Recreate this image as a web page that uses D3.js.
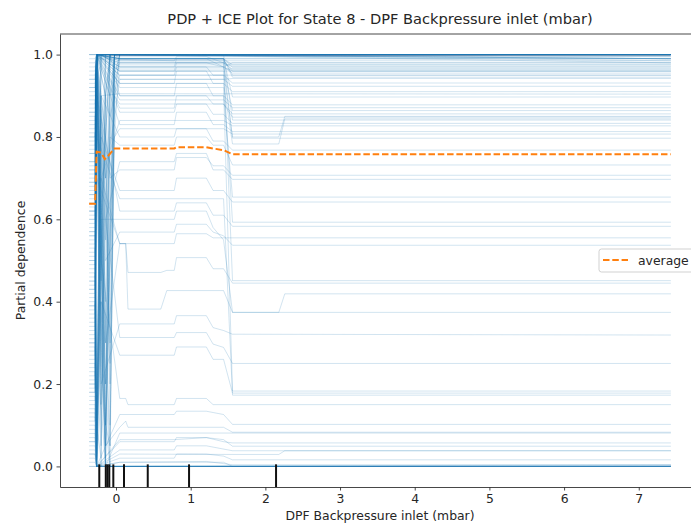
<!DOCTYPE html>
<html>
<head>
<meta charset="utf-8">
<script src="https://cdn.jsdelivr.net/npm/d3@7"></script>
<style>
  body { margin: 0; background: #fff; }
  text { font-family: "DejaVu Sans", sans-serif; fill: #262626; }
</style>
</head>
<body>
<svg id="chart" width="691" height="525"></svg>
<script>
// Feature grid (mbar) on which the individual curves are evaluated
const iceGrid = [-0.36, -0.28, -0.26, -0.20, -0.14, -0.08, -0.02, 0.05, 0.13, 0.16,
                 0.60, 0.68, 0.78, 0.81, 1.21, 1.30, 1.44, 1.56, 2.18, 2.26, 7.43];

// Individual conditional expectation curves: [grid index, predicted probability] vertices
const iceTop = [
  [[0,1],[20,1]], [[0,1],[20,1]], [[0,1],[20,1]],
  [[0,0.99],[1,0.99],[2,1],[3,0.7],[4,0.2],[5,0.9],[6,1],[20,1]],
  [[0,0.98],[1,0.98],[2,1],[20,1]],
  [[0,0.96],[1,0.96],[2,1],[4,0.1],[5,0.05],[6,0.95],[7,1],[20,1]],
  [[0,0.94],[1,0.94],[2,1],[20,1]],
  [[0,0.93],[1,0.93],[2,1],[4,0.55],[6,1],[20,1]],
  [[0,0.91],[1,0.91],[2,1],[3,0.4],[4,0.0],[5,0.5],[6,1],[20,1]],
  [[0,0.89],[1,0.89],[2,0.02],[3,0.6],[5,1],[20,1]],
  [[0,0.87],[1,0.87],[2,1],[20,1]],
  [[0,0.86],[1,0.86],[2,1],[3,0.3],[4,0.05],[6,1],[20,1]],
  [[0,0.84],[1,0.84],[2,1],[4,0.8],[5,0.1],[6,0.8],[7,1],[20,0.995]],
  [[0,0.82],[1,0.82],[2,1],[20,1]],
  [[0,0.81],[1,0.81],[2,0.1],[4,0.9],[5,1],[20,1]],
  [[0,0.79],[1,0.79],[2,1],[3,0.05],[4,0.6],[5,1],[20,1]],
  [[0,0.77],[1,0.77],[2,1],[4,0.2],[5,0.0],[6,0.95],[7,1],[20,1]],
  [[0,0.76],[1,0.76],[2,1],[20,1]],
  [[0,0.74],[1,0.74],[2,1],[3,0.9],[4,0.35],[5,0.8],[6,1],[20,0.99]],
  [[0,0.72],[1,0.72],[2,0.0],[3,0.0],[4,1],[20,1]],
  [[0,0.70],[1,0.70],[2,1],[20,1]],
  [[0,0.69],[1,0.69],[2,1],[3,0.8],[4,0.1],[5,0.7],[6,1],[20,1]],
  [[0,0.67],[1,0.67],[2,1],[4,0.9],[5,0.25],[6,1],[20,1]],
  [[0,0.65],[1,0.65],[2,1],[20,0.99]],
  [[0,0.63],[1,0.63],[2,0.05],[3,1],[20,1]],
  [[0,0.61],[1,0.61],[2,1],[3,0.15],[4,0.0],[5,0.9],[6,1],[20,1]],
  [[0,0.60],[1,0.60],[2,1],[3,0.45],[4,1],[20,1]],
  [[0,0.58],[1,0.58],[2,1],[20,1]],
  [[0,0.56],[1,0.56],[2,1],[4,0.65],[5,0.3],[6,1],[20,1]],
  [[0,0.54],[1,0.54],[2,1],[5,0.05],[6,0.9],[7,1],[20,1]],
  [[0,0.52],[1,0.52],[2,1],[20,1]],
  [[0,0.50],[1,0.50],[2,0.0],[4,0.9],[5,1],[20,1]],
  [[0,0.48],[1,0.48],[2,1],[3,0.5],[4,0.1],[6,1],[20,1]],
  [[0,0.46],[1,0.46],[2,1],[20,0.985]],
  [[0,0.44],[1,0.44],[2,1],[3,0.15],[4,0.9],[5,1],[20,0.99]],
  [[0,0.42],[1,0.42],[2,1],[20,1]],
  [[0,0.40],[1,0.40],[2,0.1],[3,0.02],[4,0.8],[5,1],[20,1]],
  [[0,0.38],[1,0.38],[2,0.95],[4,0.02],[5,0.6],[6,1],[20,1]],
  [[0,0.36],[1,0.36],[2,1],[20,1]],
  [[0,0.34],[1,0.34],[2,1],[4,0.75],[5,0.2],[6,0.9],[7,1],[20,0.98]],
  [[0,0.32],[1,0.32],[2,1],[20,1]],
  [[0,0.30],[1,0.30],[2,0.0],[3,0.7],[4,1],[20,1]],
  [[0,0.28],[1,0.28],[2,1],[3,0.6],[4,0.05],[5,1],[20,1]],
  [[0,0.26],[1,0.26],[2,1],[20,0.99]],
  [[0,0.24],[1,0.24],[2,1],[4,0.4],[5,1],[20,1]],
  [[0,0.22],[1,0.22],[2,1],[20,1]]
];

const iceBand = [
  [[0,0.97],[1,0.97],[2,1],[7,0.99],[16,0.99],[17,0.975],[20,0.975]],
  [[0,0.95],[1,0.95],[2,0.99],[12,0.985],[13,0.995],[14,0.995],[16,0.98],[17,0.97],[20,0.97]],
  [[0,0.90],[1,0.90],[2,1],[5,0.9],[7,0.98],[16,0.98],[17,0.965],[20,0.965]],
  [[0,0.88],[1,0.88],[2,1],[7,0.96],[20,0.96]],
  [[0,0.86],[1,0.86],[2,0],[3,1],[7,0.97],[12,0.97],[13,0.99],[14,0.99],[16,0.97],[17,0.955],[20,0.955]],
  [[0,0.83],[1,0.83],[2,1],[7,0.95],[20,0.95]],
  [[0,0.80],[1,0.80],[2,1],[4,0.7],[6,1],[7,0.99],[16,0.99],[17,0.945],[20,0.945]],
  [[0,0.76],[1,0.76],[2,1],[7,0.985],[20,0.985]],
  [[0,0.72],[1,0.72],[2,1],[7,0.97],[16,0.97],[17,0.98],[20,0.98]],
  [[0,0.66],[1,0.66],[2,1],[7,0.99],[20,0.99]],
  [[0,0.62],[1,0.62],[2,0.1],[3,1],[7,0.975],[20,0.975]],
  [[0,0.57],[1,0.57],[2,1],[7,0.96],[12,0.96],[13,0.98],[14,0.98],[16,0.97],[17,0.96],[20,0.96]],
  [[0,0.50],[1,0.50],[2,1],[7,0.99],[16,0.99],[17,0.95],[20,0.95]],
  [[0,0.43],[1,0.43],[2,1],[7,0.965],[20,0.965]],
  [[0,0.39],[1,0.39],[2,1],[7,0.94],[16,0.94],[17,0.942],[20,0.942]],
  [[0,0.30],[1,0.30],[2,1],[7,0.99],[16,0.99],[17,0.97],[20,0.97]],
  [[0,0.94],[1,0.94],[2,1],[7,0.98],[20,0.98]],
  [[0,0.92],[1,0.92],[2,1],[7,0.995],[20,0.995]],
  [[0,0.20],[1,0.20],[2,1],[7,0.985],[16,0.985],[17,0.96],[20,0.96]],
  [[0,0.18],[1,0.18],[2,1],[7,0.99],[20,0.99]]
];

const iceUpper = [
  [[0,0.92],[1,0.92],[2,1],[7,0.95],[12,0.95],[13,0.97],[14,0.97],[15,0.95],[16,0.95],[17,0.931],[20,0.931]],
  [[0,0.80],[1,0.80],[2,1],[4,0.7],[7,0.94],[16,0.94],[17,0.923],[20,0.923]],
  [[0,0.73],[1,0.73],[2,1],[7,0.93],[12,0.93],[13,0.96],[14,0.96],[15,0.93],[16,0.93],[17,0.91],[20,0.91]],
  [[0,0.85],[1,0.85],[2,0],[3,0.9],[7,0.905],[20,0.904]],
  [[0,0.68],[1,0.68],[2,1],[7,0.99],[16,0.99],[17,0.897],[20,0.897]],
  [[0,0.62],[1,0.62],[2,1],[3,0.6],[5,1],[7,0.9],[12,0.9],[13,0.93],[14,0.93],[15,0.9],[16,0.9],[17,0.878],[20,0.878]],
  [[0,0.78],[1,0.78],[2,1],[7,0.89],[16,0.89],[17,0.871],[20,0.871]],
  [[0,0.56],[1,0.56],[2,0.05],[3,1],[7,0.97],[16,0.97],[17,0.864],[20,0.864]],
  [[0,0.71],[1,0.71],[2,1],[7,0.87],[12,0.87],[13,0.9],[14,0.9],[15,0.88],[16,0.88],[17,0.856],[20,0.856]],
  [[0,0.64],[1,0.64],[2,1],[4,0.3],[6,0.9],[7,0.88],[16,0.88],[17,0.848],[20,0.848]],
  [[0,0.51],[1,0.51],[2,1],[7,1],[16,1],[17,0.841],[20,0.841]],
  [[0,0.74],[1,0.74],[2,1],[7,0.86],[12,0.86],[13,0.88],[14,0.88],[15,0.855],[16,0.855],[17,0.833],[20,0.833]],
  [[0,0.47],[1,0.47],[2,0],[3,0.7],[7,0.84],[16,0.84],[17,0.827],[20,0.827]],
  [[0,0.59],[1,0.59],[2,1],[7,0.93],[16,0.93],[17,0.783],[18,0.783],[19,0.844],[20,0.844]],
  [[0,0.69],[1,0.69],[2,1],[7,0.83],[12,0.83],[13,0.86],[14,0.86],[15,0.83],[16,0.83],[17,0.813],[20,0.813]],
  [[0,0.37],[1,0.37],[2,1],[4,0.2],[6,0.8],[7,0.82],[16,0.82],[17,0.807],[20,0.807]],
  [[0,0.55],[1,0.55],[2,1],[7,0.98],[16,0.98],[17,0.797],[20,0.797]],
  [[0,0.45],[1,0.45],[2,0],[3,0.9],[7,0.8],[12,0.8],[13,0.82],[14,0.82],[15,0.79],[16,0.79],[17,0.768],[20,0.768]],
  [[0,0.60],[1,0.60],[2,1],[7,0.96],[16,0.96],[17,0.8],[18,0.8],[19,0.85],[20,0.85]]
];

const iceMid = [
  [[0,0.62],[1,0.62],[2,1],[3,0.5],[5,0.8],[7,0.78],[12,0.78],[13,0.8],[14,0.8],[15,0.78],[16,0.78],[17,0.732],[20,0.732]],
  [[0,0.57],[1,0.57],[2,0],[3,0.9],[5,0.7],[7,0.72],[12,0.72],[13,0.75],[14,0.75],[15,0.73],[16,0.73],[17,0.707],[20,0.707]],
  [[0,0.66],[1,0.66],[2,1],[4,0.6],[7,0.74],[12,0.74],[13,0.76],[14,0.76],[15,0.72],[16,0.72],[17,0.697],[20,0.697]],
  [[0,0.45],[1,0.45],[2,1],[7,0.9],[16,0.9],[17,0.654],[20,0.654]],
  [[0,0.53],[1,0.53],[2,0.1],[3,0.8],[7,0.67],[12,0.67],[13,0.7],[14,0.7],[15,0.67],[16,0.67],[17,0.642],[20,0.642]],
  [[0,0.49],[1,0.49],[2,1],[5,0.85],[7,0.95],[16,0.95],[17,0.593],[20,0.593]],
  [[0,0.41],[1,0.41],[2,0.9],[7,0.62],[12,0.62],[13,0.64],[14,0.64],[15,0.61],[16,0.61],[17,0.583],[20,0.583]],
  [[0,0.39],[1,0.39],[2,0],[3,0.7],[7,0.541],[12,0.541],[13,0.565],[14,0.565],[15,0.555],[20,0.555]],
  [[0,0.35],[1,0.35],[2,1],[4,0.5],[7,0.569],[12,0.569],[13,0.588],[14,0.588],[15,0.569],[16,0.56],[17,0.537],[20,0.537]],
  [[0,0.43],[1,0.43],[2,1],[7,0.99],[16,0.99],[17,0.451],[20,0.451]],
  [[0,0.31],[1,0.31],[2,0.7],[7,0.541],[8,0.541],[9,0.471],[10,0.471],[11,0.476],[12,0.476],[13,0.507],[14,0.507],[15,0.48],[16,0.48],[17,0.445],[20,0.445]],
  [[0,0.33],[1,0.33],[2,0.9],[4,0.3],[7,0.541],[8,0.541],[9,0.382],[10,0.382],[11,0.427],[16,0.427],[17,0.374],[18,0.374],[19,0.419],[20,0.419]],
  [[0,0.29],[1,0.29],[2,0],[3,0.6],[7,0.6],[12,0.6],[13,0.62],[14,0.62],[15,0.58],[16,0.55],[17,0.374],[20,0.374]],
  [[0,0.27],[1,0.27],[2,1],[3,0.2],[7,0.346],[12,0.346],[13,0.366],[14,0.366],[15,0.337],[16,0.33],[17,0.321],[20,0.319]],
  [[0,0.25],[1,0.25],[2,0],[4,0.6],[7,0.313],[12,0.313],[13,0.325],[14,0.325],[15,0.297],[16,0.289],[17,0.25],[20,0.25]],
  [[0,0.23],[1,0.23],[2,0],[3,0.4],[7,0.27],[12,0.27],[13,0.29],[14,0.29],[15,0.26],[16,0.26],[17,0.178],[20,0.178]],
  [[0,0.21],[1,0.21],[2,1],[7,0.92],[16,0.92],[17,0.183],[20,0.183]],
  [[0,0.19],[1,0.19],[2,0.8],[7,0.65],[16,0.65],[17,0.173],[20,0.173]],
  [[0,0.17],[1,0.17],[2,0],[3,0.5],[7,0.165],[8,0.165],[9,0.15],[12,0.15],[13,0.165],[14,0.165],[15,0.15],[20,0.15]],
  [[0,0.13],[1,0.13],[2,0],[7,0.126],[12,0.126],[13,0.134],[14,0.134],[16,0.126],[17,0.102],[20,0.102]],
  [[0,0.16],[1,0.16],[2,0.9],[4,0.05],[7,0.095],[8,0.11],[9,0.095],[16,0.095],[17,0.083],[20,0.083]],
  [[0,0.11],[1,0.11],[2,0.7],[4,0],[7,0.081],[20,0.081]],
  [[0,0.09],[1,0.09],[2,0],[7,0.065],[12,0.065],[14,0.07],[16,0.06],[17,0.057],[20,0.057]],
  [[0,0.07],[1,0.07],[2,0],[7,0.06],[12,0.06],[13,0.07],[14,0.07],[16,0.065],[17,0.049],[20,0.049]],
  [[0,0.04],[1,0.04],[2,0],[7,0.04],[12,0.04],[13,0.05],[14,0.05],[17,0.038],[20,0.038]],
  [[0,0.06],[1,0.06],[2,0],[7,0.03],[17,0.029],[18,0.029],[19,0.038],[20,0.038]],
  [[0,0.03],[1,0.03],[2,0],[7,0.02],[12,0.02],[13,0.03],[14,0.03],[16,0.025],[17,0.016],[20,0.016]],
  [[0,0.01],[1,0.01],[2,0],[7,0.01],[14,0.012],[17,0.004],[20,0.004]]
];

const iceBottom = [
  [[0,0],[20,0]], [[0,0],[20,0]],
  [[0,0.02],[1,0.02],[2,0],[20,0]],
  [[0,0.05],[1,0.05],[2,0],[3,0.6],[4,0.1],[5,0],[20,0]],
  [[0,0.08],[1,0.08],[2,0],[20,0.002]],
  [[0,0.12],[1,0.12],[2,0],[3,0.4],[4,0],[20,0]],
  [[0,0.15],[1,0.15],[2,0],[20,0]],
  [[0,0.18],[1,0.18],[2,1],[3,0.3],[4,0],[20,0]],
  [[0,0.20],[1,0.20],[2,0],[4,0.35],[5,0],[20,0]],
  [[0,0.10],[1,0.10],[2,0],[7,0.01],[16,0.01],[17,0],[20,0]],
  [[0,0.03],[1,0.03],[2,0],[20,0]],
  [[0,0.06],[1,0.06],[2,0.9],[3,0],[20,0.004]],
  [[0,0.14],[1,0.14],[2,0],[20,0]]
];

// Averaged partial dependence curve
const pdpX = [-0.36, -0.28, -0.26, -0.20, -0.15, -0.10, -0.02, 0.05, 0.78, 0.81, 1.21, 1.30, 1.44, 1.56, 7.43];
const pdpY = [0.638, 0.638, 0.764, 0.762, 0.746, 0.755, 0.772, 0.772, 0.772, 0.775, 0.775, 0.772, 0.768, 0.758, 0.758];

// Deciles of the feature distribution (rug marks)
const deciles = [-0.224, -0.137, -0.114, -0.090, -0.036, 0.107, 0.425, 0.978, 2.143];

const xTicks = [0, 1, 2, 3, 4, 5, 6, 7];
const yTicks = [0.0, 0.2, 0.4, 0.6, 0.8, 1.0];
const titleText = "PDP + ICE Plot for State 8 - DPF Backpressure inlet (mbar)";
const xLabel = "DPF Backpressure inlet (mbar)";
const yLabel = "Partial dependence";
const legendLabel = "average";

// ---- layout ----
const axL = 60, axR = 700, axT = 34, axB = 487;
const svg = d3.select("#chart");

const x = d3.scaleLinear().domain([-0.75, 7.82]).range([axL, axR]);
const y = d3.scaleLinear().domain([-0.05, 1.05]).range([axB, axT]);

const line = d3.line().x(d => x(d[0])).y(d => y(d[1]));

// ICE curves
const allIce = [].concat(iceTop, iceBand, iceUpper, iceMid, iceBottom);
svg.append("g")
  .attr("fill", "none")
  .attr("stroke", "#1f77b4")
  .attr("stroke-width", 1)
  .attr("stroke-opacity", 0.2)
  .selectAll("path")
  .data(allIce)
  .join("path")
  .attr("d", v => line(v.map(([k, val]) => [iceGrid[k], val])));

// average curve
svg.append("path")
  .attr("fill", "none")
  .attr("stroke", "#ff7f0e")
  .attr("stroke-width", 2)
  .attr("stroke-dasharray", "6.5,2.8")
  .attr("d", line(pdpX.map((d, i) => [d, pdpY[i]])));

// rug of deciles at the bottom 5% of the axes
const rugH = (axB - axT) * 0.05;
svg.append("g")
  .selectAll("line")
  .data(deciles)
  .join("line")
  .attr("x1", d => x(d)).attr("x2", d => x(d))
  .attr("y1", axB).attr("y2", axB - rugH)
  .attr("stroke", "#111")
  .attr("stroke-width", 2);

// axes
const fs = "12.4px";
const xAxis = svg.append("g")
  .attr("transform", `translate(0,${axB})`)
  .call(d3.axisBottom(x).tickValues(xTicks).tickFormat(d3.format("d"))
    .tickSize(3.5).tickPadding(3.5).tickSizeOuter(0));
const yAxis = svg.append("g")
  .attr("transform", `translate(${axL},0)`)
  .call(d3.axisLeft(y).tickValues(yTicks).tickFormat(d3.format(".1f"))
    .tickSize(3.5).tickPadding(3.5).tickSizeOuter(0));
[xAxis, yAxis].forEach(g => {
  g.selectAll("text").style("font-size", fs).style("font-family", "DejaVu Sans").attr("fill", "#2b2b2b");
  g.selectAll("line").attr("stroke", "#333").attr("stroke-width", 0.9);
  g.select(".domain").attr("stroke", "#333").attr("stroke-width", 0.9);
});
// top spine
svg.append("line")
  .attr("x1", axL).attr("x2", axR).attr("y1", axT).attr("y2", axT)
  .attr("stroke", "#333").attr("stroke-width", 0.9);

// title and labels
svg.append("text")
  .attr("x", (axL + axR) / 2).attr("y", 24)
  .attr("text-anchor", "middle").style("font-size", "14.6px")
  .text(titleText);
svg.append("text")
  .attr("x", (axL + axR) / 2).attr("y", 520)
  .attr("text-anchor", "middle").style("font-size", fs)
  .text(xLabel);
svg.append("text")
  .attr("transform", `translate(25,${(axT + axB) / 2}) rotate(-90)`)
  .attr("text-anchor", "middle").style("font-size", fs)
  .text(yLabel);

// legend
const lg = svg.append("g");
lg.append("rect")
  .attr("x", 599).attr("y", 249).attr("width", 95).attr("height", 23)
  .attr("rx", 2.5)
  .attr("fill", "#fff").attr("fill-opacity", 0.8)
  .attr("stroke", "#cccccc").attr("stroke-width", 0.9);
lg.append("line")
  .attr("x1", 603).attr("x2", 628).attr("y1", 260).attr("y2", 260)
  .attr("stroke", "#ff7f0e").attr("stroke-width", 2)
  .attr("stroke-dasharray", "6.5,2.8");
lg.append("text")
  .attr("x", 638).attr("y", 264.5)
  .style("font-size", fs)
  .text(legendLabel);
</script>
</body>
</html>
